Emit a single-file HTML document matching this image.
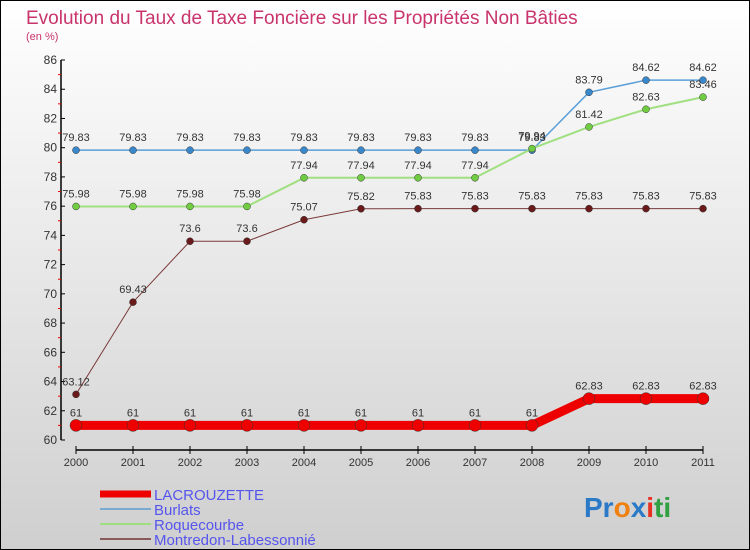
<!DOCTYPE html>
<html><head><meta charset="utf-8"><style>
body{margin:0}
#c{width:750px;height:550px;position:relative;overflow:hidden}
</style></head><body>
<div id="c">
<svg width="750" height="550" xmlns="http://www.w3.org/2000/svg" font-family="'Liberation Sans', sans-serif">
<defs><linearGradient id="bg" x1="0" y1="0" x2="0" y2="1"><stop offset="0" stop-color="#ffffff"/><stop offset="1" stop-color="#cfcfcf"/></linearGradient></defs>
<rect x="0.5" y="0.5" width="749" height="549" fill="url(#bg)" stroke="#000"/>
<text x="26" y="24" font-size="19" fill="#c8346b">Evolution du Taux de Taxe Foncière sur les Propriétés Non Bâties</text>
<text x="26" y="40" font-size="11" fill="#c8346b">(en %)</text>
<g id="axes"></g>
<g id="series"></g>
<g id="legend"></g>
<text x="584" y="517" font-size="28" font-weight="bold"><tspan fill="#2a7ac8">Pr</tspan><tspan fill="#f08010">o</tspan><tspan fill="#2a7ac8">x</tspan><tspan fill="#e83020">i</tspan><tspan fill="#30a040">ti</tspan></text>
</svg>
</div>
<script>
const years=["2000","2001","2002","2003","2004","2005","2006","2007","2008","2009","2010","2011"];
const yTicks=[60,62,64,66,68,70,72,74,76,78,80,82,84,86];
const lacrouzette=[61,61,61,61,61,61,61,61,61,62.83,62.83,62.83];
const burlats=[79.83,79.83,79.83,79.83,79.83,79.83,79.83,79.83,79.83,83.79,84.62,84.62];
const roquecourbe=[75.98,75.98,75.98,75.98,77.94,77.94,77.94,77.94,79.94,81.42,82.63,83.46];
const montredon=[63.12,69.43,73.6,73.6,75.07,75.82,75.83,75.83,75.83,75.83,75.83,75.83];
const NS="http://www.w3.org/2000/svg";
const X=i=>76+i*57;
const Y=v=>440-(v-60)*(380/26);
function mk(t,a,p){const e=document.createElementNS(NS,t);for(const k in a)e.setAttribute(k,a[k]);p.appendChild(e);return e;}
const ax=document.getElementById('axes');
let l=mk('line',{x1:61,y1:60,x2:61,y2:440,stroke:'#000','stroke-width':1.5},ax);


yTicks.forEach((v,i)=>{
 mk('line',{x1:61,y1:Y(v),x2:65,y2:Y(v),stroke:'#000'},ax);
 if(i<yTicks.length-1) mk('line',{x1:58,y1:Y(v+1),x2:61,y2:Y(v+1),stroke:'#e00'},ax);
 const t=mk('text',{x:57,y:Y(v)+4,'font-size':12,'text-anchor':'end',fill:'#333'},ax);
 t.textContent=v;
 
 
});
l=mk('line',{x1:76,y1:450,x2:X(11),y2:450,stroke:'#000','stroke-width':1.5},ax);


years.forEach((y,i)=>{
 mk('line',{x1:X(i),y1:446,x2:X(i),y2:454,stroke:'#000'},ax);
 const t=mk('text',{x:X(i),y:466,'font-size':11,'text-anchor':'middle',fill:'#333'},ax);
 t.textContent=y;
 
 
});
const sg=document.getElementById('series');
const fmt=v=>String(v);
function series(vals,color,dot,w,r,name){
 const g=mk('g',{},sg);
 
 
 mk('polyline',{points:vals.map((v,i)=>X(i)+','+Y(v)).join(' '),fill:'none',stroke:color,'stroke-width':w},g);
 vals.forEach((v,i)=>{
  const c=mk('circle',{cx:X(i),cy:Y(v),r:r,fill:dot,stroke:'#333','stroke-width':0.5},g);
  
  
  const t=mk('text',{x:X(i),y:Y(v)-9,'font-size':11,'text-anchor':'middle',fill:'#333'},g);
  t.textContent=fmt(v);
  
  
 });
}
series(burlats,'#5a9fd8','#3a88cc',1.5,3.5,'burlats-series');
series(roquecourbe,'#a0e080','#70cc40',2,3.5,'roquecourbe-series');
series(montredon,'#7a3a3a','#6a1a1a',1,3.5,'montredon-series');
series(lacrouzette,'#ee0000','#ee0000',9,6,'lacrouzette-series');
const lg=document.getElementById('legend');
const leg=[["LACROUZETTE","#ee0000",7],["Burlats","#7aaad0",2],["Roquecourbe","#9ee080",2],["Montredon-Labessonnié","#8a5a5a",2]];
leg.forEach((e,i)=>{
 const y=494+i*15;
 const g=mk('g',{},lg);
 
 
 mk('line',{x1:100,y1:y,x2:151,y2:y,stroke:e[1],'stroke-width':e[2]},g);
 const t=mk('text',{x:154,y:y+6,'font-size':15,fill:'#5555ee'},g);
 t.textContent=e[0];
});
</script>
</body></html>
